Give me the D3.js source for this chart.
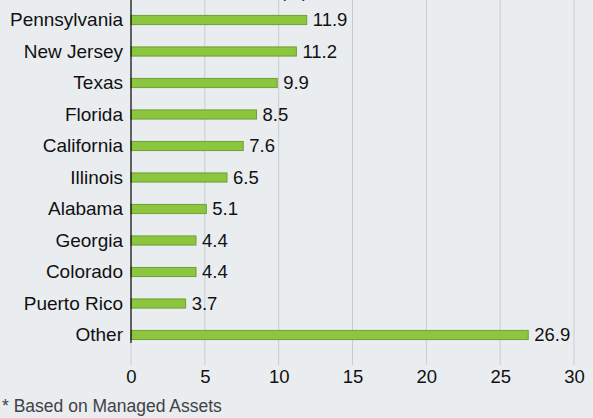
<!DOCTYPE html>
<html><head><meta charset="utf-8">
<script src="https://cdn.jsdelivr.net/npm/d3@7"></script>
<style>
html,body{margin:0;padding:0;background:#e9edf0;}
svg{display:block;font-family:"Liberation Sans",Arial,sans-serif;}
</style></head>
<body>
<svg id="c" width="593" height="418"></svg>
<script>
const categories = ["Pennsylvania","New Jersey","Texas","Florida","California","Illinois","Alabama","Georgia","Colorado","Puerto Rico","Other"];
const values = [11.9,11.2,9.9,8.5,7.6,6.5,5.1,4.4,4.4,3.7,26.9];
const tickValues = [0,5,10,15,20,25,30];
const footnote = "* Based on Managed Assets";
const titleText = "(%)";

const svg = d3.select("#c");
svg.append("rect").attr("width",593).attr("height",418).attr("fill","#e9edf0");

const x = d3.scaleLinear().domain([0,30]).range([131,574]);
const y = d3.scaleBand().domain(categories).range([4.25,350.75]).paddingInner(0.71).paddingOuter(0.355);

// clipped title remnant (reference shows only the bottom of it)
svg.append("text").attr("x",294).attr("y",-3).attr("text-anchor","middle")
  .attr("font-size",18).attr("fill","#222").text(titleText);

// gridlines
svg.append("g").selectAll("line").data(tickValues.filter(d=>d>0)).join("line")
  .attr("x1",d=>x(d)).attr("x2",d=>x(d)).attr("y1",0).attr("y2",365)
  .attr("stroke","#c9cccf").attr("stroke-width",1);
svg.append("line").attr("x1",x(0)).attr("x2",x(0)).attr("y1",343).attr("y2",365)
  .attr("stroke","#c9cccf").attr("stroke-width",1);

// x axis labels
const xAxis = d3.axisBottom(x).tickValues(tickValues).tickSize(0).tickPadding(0);
const gx = svg.append("g").attr("transform","translate(0,370)").call(xAxis);
gx.select(".domain").remove();
gx.selectAll("text").attr("font-size",18.5).attr("fill","#111").attr("font-family","Liberation Sans, Arial, sans-serif").attr("dy","0.71em");

// bars
svg.append("g").selectAll("rect").data(values).join("rect")
  .attr("x",x(0)).attr("y",(d,i)=>y(categories[i]))
  .attr("width",d=>x(d)-x(0)).attr("height",y.bandwidth())
  .attr("fill","#8cc63f").attr("stroke","#6f9f35").attr("stroke-width",1);

// value labels
svg.append("g").selectAll("text").data(values).join("text")
  .attr("x",d=>x(d)+6).attr("y",(d,i)=>y(categories[i])+y.bandwidth()/2)
  .attr("dy","0.35em").attr("font-size",18.5).attr("fill","#111")
  .text(d=>d.toFixed(1));

// y axis
const yAxis = d3.axisLeft(y).tickSize(0).tickPadding(8);
const gy = svg.append("g").attr("transform",`translate(${x(0)},0)`).call(yAxis);
gy.select(".domain").remove();
gy.selectAll("text").attr("font-size",19).attr("fill","#111").attr("font-family","Liberation Sans, Arial, sans-serif");
svg.append("line").attr("x1",x(0)).attr("x2",x(0)).attr("y1",0).attr("y2",343)
  .attr("stroke","#000").attr("stroke-width",1.2);

// footnote
svg.append("text").attr("x",2).attr("y",412).attr("font-size",17.5).attr("fill","#3f4246").text(footnote);
</script>
</body></html>
